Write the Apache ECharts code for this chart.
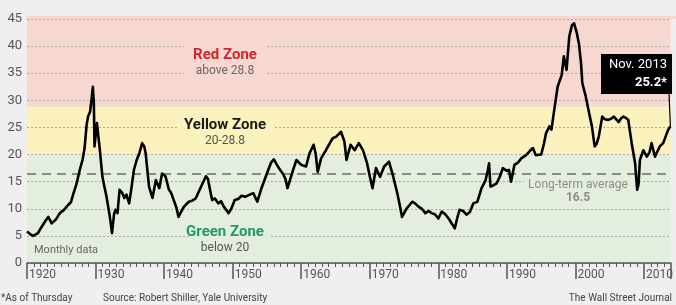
<!DOCTYPE html>
<html>
<head>
<meta charset="utf-8">
<script src="https://cdn.jsdelivr.net/npm/echarts@6/dist/echarts.min.js"></script>
<style>
  html, body { margin: 0; padding: 0; background: #efefef; }
  #chart { width: 676px; height: 305px; }
</style>
</head>
<body>
<div id="chart"></div>
<script>
// Shiller CAPE (year as decimal, P/E value)
var years = [
  1920.0, 1920.5, 1920.9, 1921.6, 1922.1, 1922.6, 1923.1, 1923.6, 1924.2, 1924.8,
  1925.4, 1926.0, 1926.4, 1926.7, 1927.2, 1927.7, 1928.1, 1928.4, 1928.7, 1928.9,
  1929.2, 1929.4, 1929.6, 1929.75, 1929.85, 1930.2, 1930.6, 1931.0, 1931.3, 1931.6,
  1932.0, 1932.2, 1932.4, 1932.7, 1932.9, 1933.2, 1933.5, 1933.9, 1934.2, 1934.5,
  1934.9, 1935.2, 1935.6, 1936.0, 1936.4, 1936.8, 1937.1, 1937.3, 1937.8, 1938.3,
  1938.8, 1939.3, 1939.7, 1940.2, 1940.7, 1941.0, 1941.4, 1941.8, 1942.1, 1942.5,
  1942.9, 1943.6, 1944.1, 1944.6, 1945.0, 1945.5, 1946.1, 1946.4, 1946.6, 1947.0,
  1947.4, 1947.9, 1948.3, 1948.7, 1949.4, 1949.8, 1950.3, 1950.8, 1951.3, 1951.8,
  1952.5, 1953.0, 1953.6, 1954.2, 1954.7, 1955.2, 1955.6, 1956.0, 1956.5, 1956.9,
  1957.3, 1957.7, 1958.0, 1958.5, 1958.9, 1959.3, 1960.0, 1960.7, 1961.2, 1961.8,
  1962.1, 1962.4, 1962.9, 1963.6, 1964.3, 1964.6, 1965.1, 1965.8, 1966.3, 1966.6,
  1967.2, 1967.8, 1968.4, 1969.0, 1969.6, 1970.0, 1970.4, 1970.9, 1971.5, 1972.1,
  1972.8, 1973.3, 1974.0, 1974.4, 1974.7, 1975.4, 1976.2, 1976.6, 1977.1, 1977.6,
  1978.1, 1978.6, 1979.0, 1979.5, 1980.0, 1980.5, 1981.0, 1981.5, 1982.0, 1982.4,
  1982.8, 1983.1, 1983.6, 1984.1, 1984.6, 1985.1, 1985.7, 1986.3, 1986.9, 1987.2,
  1987.4, 1987.6, 1988.0, 1988.5, 1989.0, 1989.4, 1990.0, 1990.3, 1990.6, 1991.1,
  1991.6, 1992.1, 1992.8, 1993.3, 1993.8, 1994.2, 1995.0, 1995.4, 1995.7, 1996.2,
  1996.5, 1996.9, 1997.4, 1998.0, 1998.3, 1998.7, 1999.1, 1999.5, 1999.8, 2000.2,
  2000.5, 2000.8, 2001.0, 2001.5, 2001.9, 2002.4, 2002.8, 2003.1, 2003.4, 2003.9,
  2004.3, 2004.8, 2005.2, 2005.6, 2006.3, 2006.6, 2007.0, 2007.4, 2007.7, 2008.2,
  2008.7, 2009.0, 2009.2, 2009.4, 2009.9, 2010.4, 2010.8, 2011.1, 2011.6, 2012.3,
  2012.8, 2013.2, 2013.5, 2013.85
];
var cape = [
  5.8, 5.3, 5.0, 5.5, 6.6, 7.6, 8.5, 7.3, 8.0, 9.2,
  9.8, 10.7, 11.2, 12.5, 14.5, 17.2, 19.0, 21.2, 25.5, 27.0,
  27.9, 30.0, 32.5, 29.5, 21.5, 25.8, 21.2, 15.9, 14.0, 12.2,
  9.2, 7.5, 5.5, 9.0, 9.8, 9.2, 13.5, 12.9, 12.0, 12.6,
  11.0, 13.5, 17.2, 19.0, 20.3, 22.1, 21.5, 20.3, 14.1, 12.0,
  15.3, 13.8, 16.5, 16.0, 13.5, 13.0, 11.6, 10.2, 8.5, 9.5,
  10.4, 11.3, 11.5, 11.9, 13.0, 14.4, 16.0, 15.5, 14.1, 11.6,
  11.9, 11.0, 11.4, 10.4, 9.2, 10.0, 11.6, 11.8, 12.4, 12.2,
  12.6, 12.9, 11.3, 13.8, 15.5, 17.2, 18.5, 19.1, 18.0, 17.2,
  16.5, 15.5, 13.8, 15.9, 17.5, 19.0, 18.1, 17.8, 20.2, 21.8,
  20.2, 16.8, 19.3, 20.8, 22.4, 23.0, 23.3, 24.2, 22.4, 19.0,
  21.8, 20.8, 22.1, 20.8, 18.4, 16.0, 13.8, 17.5, 15.9, 17.8,
  18.7, 16.5, 12.9, 10.5, 8.5, 10.1, 11.3, 11.0, 10.4, 10.0,
  9.2, 9.6, 9.2, 9.0, 8.2, 9.5, 9.0, 8.2, 7.2, 6.4,
  8.5, 9.8, 9.6, 8.9, 9.4, 11.0, 11.3, 13.8, 15.3, 17.0,
  18.4, 14.1, 14.3, 14.7, 16.0, 17.5, 17.0, 17.2, 15.0, 18.1,
  18.5, 19.3, 19.9, 20.6, 21.2, 19.9, 20.0, 22.0, 23.9, 25.2,
  24.6, 28.2, 32.5, 34.7, 38.1, 35.6, 41.8, 43.9, 44.2, 42.4,
  40.5, 37.0, 33.2, 30.7, 28.2, 25.2, 21.5, 22.0, 23.3, 27.0,
  26.5, 26.4, 26.6, 27.0, 26.0, 26.6, 27.0, 26.7, 26.4, 22.1,
  18.4, 13.5, 14.5, 19.0, 20.8, 19.6, 20.4, 22.1, 19.6, 21.5,
  22.1, 23.5, 24.5, 25.2
];
var yearTicks = [1920, 1930, 1940, 1950, 1960, 1970, 1980, 1990, 2000, 2010];
var peTicks = [0, 5, 10, 15, 20, 25, 30, 35, 40, 45];
var zones = [
  { name: 'Green Zone', from: 0, to: 20 },
  { name: 'Yellow Zone', from: 20, to: 28.8 },
  { name: 'Red Zone', from: 28.8, to: 45 }
];
var longTermAvg = 16.5;

var zoneColors = { 'Green Zone': '#e4eedf', 'Yellow Zone': '#fcf2bd', 'Red Zone': '#f7d8d1' };
var font = 'Roboto, "Noto Sans", sans-serif';

var chart = echarts.init(document.getElementById('chart'));
var option = {
  backgroundColor: '#efefef',
  animation: false,
  textStyle: { fontFamily: font },
  grid: { left: 27, right: 1, top: 19, bottom: 42 },
  xAxis: {
    type: 'value',
    min: 1920,
    max: 2013.9,
    interval: 10,
    z: 3,
    axisLine: { show: true, lineStyle: { color: '#555', width: 1.5 } },
    axisTick: { show: true, length: 16, lineStyle: { color: '#555', width: 1.5 } },
    minorTick: { show: true, splitNumber: 10, length: 4, lineStyle: { color: '#555', width: 1 } },
    splitLine: { show: false },
    axisLabel: {
      color: '#555', fontSize: 12, align: 'left', margin: 6, padding: [0, 0, 0, 2],
      showMaxLabel: false,
      formatter: function (v) { return yearTicks.indexOf(v) >= 0 ? String(v) : ''; }
    }
  },
  yAxis: {
    type: 'value',
    min: 0,
    max: 45,
    interval: 5,
    z: 3,
    axisLine: { show: false },
    axisTick: { show: false },
    splitLine: { show: true, lineStyle: { color: '#a9a9a9', type: [2, 2], width: 1 } },
    axisLabel: {
      color: '#555', fontSize: 13, margin: 5,
      formatter: function (v) { return peTicks.indexOf(v) >= 0 ? String(v) : ''; }
    }
  },
  series: [
    {
      type: 'line',
      z: 1,
      data: [],
      silent: true,
      markArea: {
        silent: true,
        data: zones.map(function (zn) {
          return [{ yAxis: zn.from, itemStyle: { color: zoneColors[zn.name] } }, { yAxis: zn.to }];
        })
      }
    },
    {
      type: 'line',
      z: 5,
      data: years.map(function (y, i) { return [y, cape[i]]; }),
      showSymbol: false,
      lineStyle: { color: '#000', width: 2.6, join: 'round' },
      markLine: {
        silent: true,
        symbol: 'none',
        label: { show: false },
        lineStyle: { color: '#8a8a8a', width: 2, type: [9, 6] },
        data: [{ yAxis: longTermAvg }]
      }
    }
  ]
};
chart.setOption(option);

// leader line from callout to the last reading
var last = chart.convertToPixel({ seriesIndex: 1 }, [years[years.length - 1], cape[cape.length - 1]]);

function txt(x, y, text, size, color, weight, align, z) {
  return {
    type: 'text', x: x, y: y, z: z || 10,
    style: {
      text: text, fontFamily: font, fontSize: size, fill: color,
      fontWeight: weight || 'normal', align: align || 'center', verticalAlign: 'middle'
    }
  };
}

chart.setOption({
  graphic: [
    { type: 'rect', z: 0, shape: { x: 26, y: 16, width: 650, height: 3 }, style: { fill: zoneColors['Red Zone'] } },
    // text backgrounds that break the gridlines
    { type: 'rect', z: 9, shape: { x: 184, y: 40, width: 82, height: 38 }, style: { fill: zoneColors['Red Zone'] } },
    { type: 'rect', z: 9, shape: { x: 177, y: 117, width: 96, height: 32 }, style: { fill: zoneColors['Yellow Zone'] } },
    { type: 'rect', z: 9, shape: { x: 190, y: 224, width: 81, height: 32 }, style: { fill: zoneColors['Green Zone'] } },
    { type: 'rect', z: 9, shape: { x: 524, y: 177, width: 110, height: 28 }, style: { fill: zoneColors['Green Zone'] } },
    txt(225, 55, 'Red Zone', 15, '#d3252a', 'bold'),
    txt(225, 71, 'above 28.8', 12, '#666'),
    txt(225, 125, 'Yellow Zone', 15, '#1a1a1a', 'bold'),
    txt(225, 141, '20-28.8', 12, '#555'),
    txt(225, 232, 'Green Zone', 15, '#1f9a6b', 'bold'),
    txt(225, 248, 'below 20', 12, '#555'),
    txt(34, 250, 'Monthly data', 11, '#666', 'normal', 'left'),
    txt(578, 185, 'Long-term average', 12, '#8c8c8c'),
    txt(578, 198, '16.5', 12, '#8c8c8c', 'bold'),
    { type: 'line', z: 11, shape: { x1: 669, y1: 93, x2: last[0], y2: last[1] }, style: { stroke: '#000', lineWidth: 1.2 } },
    { type: 'rect', z: 11, shape: { x: 601, y: 54, width: 71, height: 40 }, style: { fill: '#000' } },
    txt(667, 65, 'Nov. 2013', 13, '#fff', 'normal', 'right', 12),
    txt(667, 83, '25.2*', 13, '#fff', 'bold', 'right', 12),
    txt(1, 298, '*As of Thursday', 10, '#444', 'normal', 'left'),
    txt(103, 298, 'Source: Robert Shiller, Yale University', 10, '#444', 'normal', 'left'),
    txt(672, 298, 'The Wall Street Journal', 10, '#444', 'normal', 'right')
  ]
});
</script>
</body>
</html>
